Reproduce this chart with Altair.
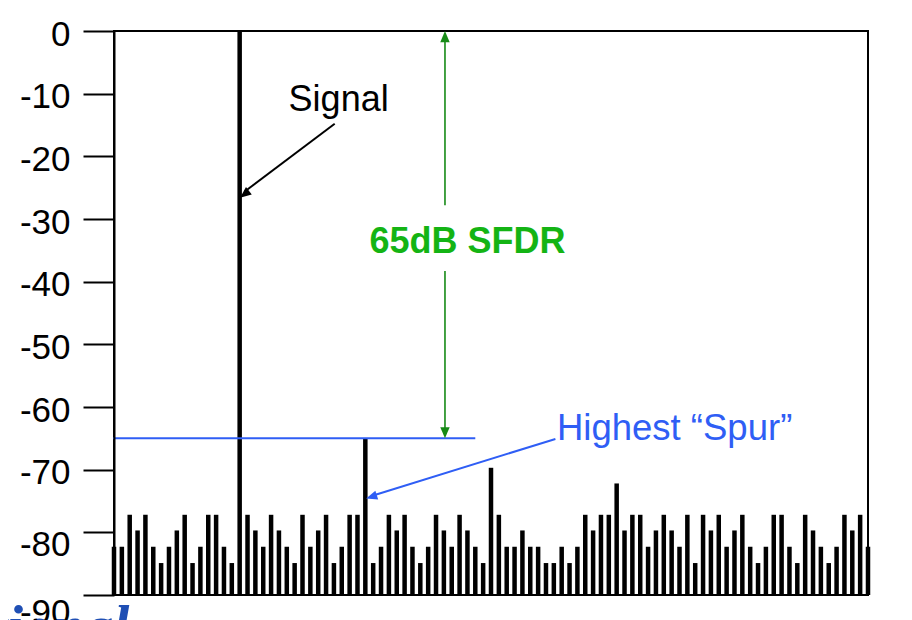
import math
import altair as alt
import pandas as pd

# ---------------- data ----------------
spectrum_db = [
    -82.3, -82.3, -77.2, -79.7, -77.2, -82.3, -84.9, -82.3, -79.7, -77.2, -84.9, -82.3,
    -77.2, -77.2, -82.3, -84.9, 0.0, -77.2, -79.7, -82.3, -77.2, -79.7, -82.3, -84.9,
    -77.2, -82.3, -79.7, -77.2, -84.9, -82.3, -77.2, -77.2, -65.0, -84.9, -82.3, -77.2,
    -79.7, -77.2, -82.3, -84.9, -82.3, -77.2, -79.7, -82.3, -77.2, -79.7, -82.3, -84.9,
    -69.7, -77.2, -82.3, -82.3, -79.7, -82.3, -82.3, -84.9, -84.9, -82.3, -84.9, -82.3,
    -77.2, -79.7, -77.2, -77.2, -72.2, -79.7, -77.2, -77.2, -82.3, -79.7, -77.2, -79.7,
    -82.3, -77.2, -84.9, -77.2, -79.7, -77.2, -82.3, -79.7, -77.2, -82.3, -84.9, -82.3,
    -77.2, -77.2, -82.3, -84.9, -77.2, -79.7, -82.3, -84.9, -82.3, -77.2, -79.7, -77.2,
    -82.3,
]
bins = list(range(len(spectrum_db)))
y_ticks = [0, -10, -20, -30, -40, -50, -60, -70, -80, -90]
floor_db = -90

# annotation anchors (data units: bin index, dB)
signal_label = {"x": 28.6, "y": -12.8, "text": "Signal"}
signal_arrow = {"x": 28.1, "y": -14.8, "x2": 16.05, "y2": -26.6}
sfdr_label = {"x": 45.0, "y": -35.4, "text": "65dB SFDR"}
sfdr_x = 42.14
sfdr_top, sfdr_bottom = 0.0, -65.0
sfdr_gap = (-27.8, -38.3)
spur_level = {"x": -0.1, "x2": 46.0, "y": -65.0}
spur_label = {"x": 56.4, "y": -65.3, "text": "Highest \u201cSpur\u201d"}
spur_arrow = {"x": 56.2, "y": -65.1, "x2": 32.1, "y2": -74.6}
footer = {"x": -24.7, "y": -97.9, "text": "National"}

W, H = 754, 564
XMAX = len(spectrum_db) - 1
FONT = "Liberation Sans"
GREEN_TXT = "#14b414"
GREEN_ARW = "#168a16"
BLUE = "#2f5ef5"

xs = alt.Scale(domain=[0, XMAX], nice=False, zero=False, padding=0)
ys = alt.Scale(domain=[-90, 0], nice=False, zero=False, padding=0)


def ang(a):
    dx = (a["x2"] - a["x"]) * W / XMAX
    dy = -(a["y2"] - a["y"]) * H / 90.0
    return math.degrees(math.atan2(dx, -dy)) % 360


HEAD = "M0,0L-0.42,1L0.42,1Z"

df = pd.DataFrame({"bin": bins, "dB": spectrum_db, "floor": floor_db})

bars = alt.Chart(df).mark_bar(size=4.5, color="black", stroke=None).encode(
    x=alt.X("bin:Q", scale=xs, axis=None),
    y=alt.Y(
        "dB:Q",
        scale=ys,
        title=None,
        axis=alt.Axis(
            values=y_ticks,
            tickSize=31,
            tickWidth=2,
            tickColor="black",
            domainColor="black",
            domainWidth=2,
            grid=False,
            zindex=1,
            labelFont=FONT,
            labelFontSize=35,
            labelColor="black",
            labelPadding=13,
            labelOffset={
                "condition": [
                    {"test": "datum.value == -90", "value": 17},
                    {"test": "datum.value == -80", "value": 12},
                ],
                "value": 3,
            },
            labelExpr="datum.value + ''",
        ),
    ),
    y2="floor:Q",
)


def seg(rows, color, width):
    return alt.Chart(pd.DataFrame(rows)).mark_rule(color=color, strokeWidth=width).encode(
        x=alt.X("x:Q", scale=xs), x2="x2:Q", y=alt.Y("y:Q", scale=ys), y2="y2:Q"
    )


def heads(rows, color, size):
    return alt.Chart(pd.DataFrame(rows)).mark_point(
        shape=HEAD, filled=True, color=color, size=size, opacity=1
    ).encode(
        x=alt.X("x:Q", scale=xs),
        y=alt.Y("y:Q", scale=ys),
        angle=alt.Angle("a:Q", scale=None),
    )


def label(d, color, weight="normal", align="center", size=36, style="normal", font=FONT):
    return alt.Chart(pd.DataFrame([d])).mark_text(
        color=color, font=font, fontSize=size, fontWeight=weight, fontStyle=style,
        align=align, baseline="alphabetic",
    ).encode(x=alt.X("x:Q", scale=xs), y=alt.Y("y:Q", scale=ys), text="text:N")


blue_level = alt.Chart(pd.DataFrame([spur_level])).mark_rule(color=BLUE, strokeWidth=2).encode(
    x=alt.X("x:Q", scale=xs), x2="x2:Q", y=alt.Y("y:Q", scale=ys)
)

green_lines = seg(
    [
        {"x": sfdr_x, "x2": sfdr_x, "y": sfdr_top - 1.0, "y2": sfdr_gap[0]},
        {"x": sfdr_x, "x2": sfdr_x, "y": sfdr_gap[1], "y2": sfdr_bottom + 1.0},
    ],
    GREEN_ARW, 1.6,
)
green_heads = heads(
    [{"x": sfdr_x, "y": sfdr_top, "a": 0}, {"x": sfdr_x, "y": sfdr_bottom, "a": 180}],
    GREEN_ARW, 500,
)

sig_line = seg([{**signal_arrow, "x2": signal_arrow["x2"] + 0.6, "y2": signal_arrow["y2"] + 1.0}], "black", 2)
sig_head = heads([{"x": signal_arrow["x2"], "y": signal_arrow["y2"], "a": ang(signal_arrow)}], "black", 500)

spur_line = seg([{**spur_arrow, "x2": spur_arrow["x2"] + 1.2, "y2": spur_arrow["y2"] + 0.6}], BLUE, 2)
spur_head = heads([{"x": spur_arrow["x2"], "y": spur_arrow["y2"], "a": ang(spur_arrow)}], BLUE, 500)

chart = alt.layer(
    bars,
    blue_level,
    green_lines,
    green_heads,
    sig_line,
    sig_head,
    spur_line,
    spur_head,
    label(signal_label, "black"),
    label(sfdr_label, GREEN_TXT, weight="bold"),
    label(spur_label, BLUE, align="left", size=36.5),
    label(footer, "#1f4fb4", weight="bold", style="italic", size=58, align="left",
          font="Liberation Serif"),
).properties(
    width=W,
    height=H,
    autosize="none",
    padding={"left": 106, "top": 23, "right": 36, "bottom": 25},
    background="white",
).configure_view(stroke="black", strokeWidth=2)

chart.save("out.html", embed_options={"renderer": "svg", "actions": False})
